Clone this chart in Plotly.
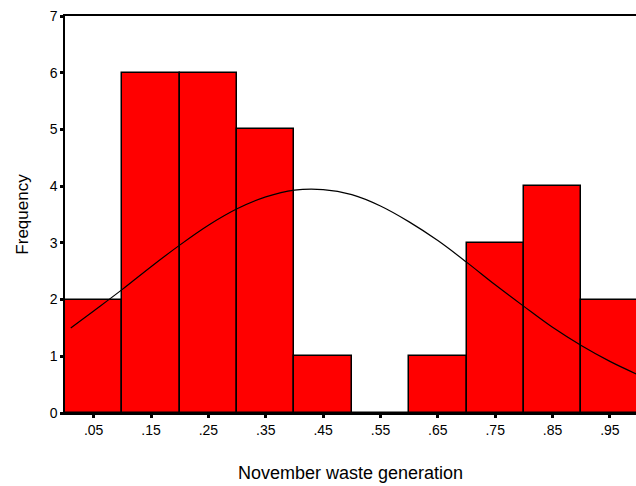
import plotly.graph_objects as go

bin_centers = [0.05, 0.15, 0.25, 0.35, 0.45, 0.55, 0.65, 0.75, 0.85, 0.95]
frequency = [2, 6, 6, 5, 1, 0, 1, 3, 4, 2]
tick_labels = [".05", ".15", ".25", ".35", ".45", ".55", ".65", ".75", ".85", ".95"]

curve_x = [0.01, 0.05, 0.10, 0.15, 0.20, 0.25, 0.30, 0.35, 0.40, 0.45, 0.50,
           0.55, 0.60, 0.65, 0.70, 0.75, 0.80, 0.85, 0.90, 0.95, 1.00]
curve_y = [1.50, 1.80, 2.18, 2.58, 2.96, 3.31, 3.60, 3.81, 3.93, 3.94, 3.85,
           3.65, 3.37, 3.04, 2.66, 2.26, 1.88, 1.51, 1.19, 0.91, 0.67]

fig = go.Figure()
fig.add_trace(go.Bar(
    x=bin_centers, y=frequency, width=0.1,
    marker=dict(color="#FF0000", line=dict(color="black", width=1.5)),
    showlegend=False,
))
fig.add_trace(go.Scatter(
    x=curve_x, y=curve_y, mode="lines", line=dict(color="black", width=1.2, shape="spline"),
    showlegend=False,
))

font = "Liberation Sans, Arial, sans-serif"
fig.update_layout(
    width=636, height=486,
    margin=dict(l=65, r=0, t=16, b=73),
    plot_bgcolor="white", paper_bgcolor="white",
    bargap=0,
    font=dict(family=font, size=14, color="black"),
    xaxis=dict(
        range=[0, 0.9955], tickvals=bin_centers, ticktext=tick_labels,
        showline=True, linecolor="black", linewidth=1.5, mirror=True,
        ticks="outside", ticklen=3, tickwidth=3, tickcolor="black",
        showgrid=False, zeroline=False,
        tickfont=dict(size=14),
        title=dict(text="November waste generation", font=dict(size=18), standoff=30),
    ),
    yaxis=dict(
        range=[0, 7], dtick=1,
        showline=True, linecolor="black", linewidth=1.5,
        ticks="outside", ticklen=3, tickwidth=3, tickcolor="black",
        showgrid=False, zeroline=False,
        tickfont=dict(size=14),
        title=dict(text="Frequency", font=dict(size=17), standoff=17),
    ),
)

fig.write_html("out.html")
